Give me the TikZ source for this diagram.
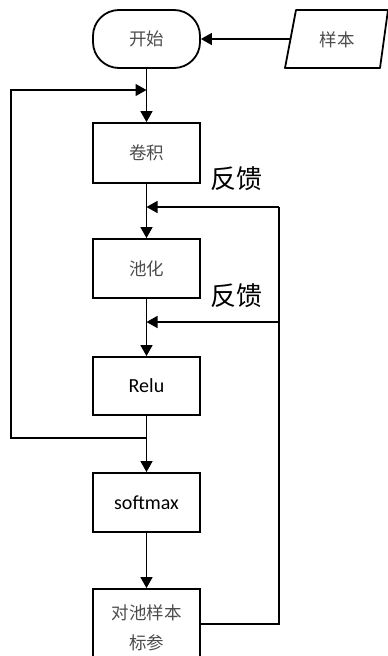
\documentclass[tikz,border=0pt]{standalone}
\usepackage{fontspec}
\newfontfamily\cjk{Noto Sans CJK SC}
\newfontfamily\latin{Carlito}
\usetikzlibrary{arrows.meta}
\begin{document}
\begin{tikzpicture}[x=1pt,y=-1pt,
  box/.style={draw,line width=1.8pt,minimum width=107pt,inner sep=0pt,align=center},
  cjktext/.style={font=\cjk\fontsize{17.5}{30}\selectfont,text=black!70},
  lattext/.style={font=\latin\fontsize{20}{24}\selectfont},
  conn/.style={line width=1.4pt},
  arr/.style={conn,-{Triangle[width=12pt,length=11pt]}},
  fbtext/.style={font=\cjk\fontsize{26}{30}\selectfont}]
\useasboundingbox (0,0) rectangle (388,656);
\clip (0,0) rectangle (388,656);

% process chain
\node[box,cjktext,minimum height=58pt,rounded corners=26pt] (start) at (146.5,39) {开始};
\node[box,cjktext,minimum height=60pt] (conv) at (146.5,153) {卷积};
\node[box,cjktext,minimum height=59pt] (pool) at (146.5,268.5) {池化};
\node[box,lattext,minimum height=58pt] (relu) at (146.5,386) {Relu};
\node[box,lattext,minimum height=59pt] (soft) at (146.5,502.5) {softmax};
\node[box,cjktext,minimum height=78pt] (last) at (146.5,628) {对池样本\\标参};

% input parallelogram
\draw[line width=1.8pt,line join=round] (285,68) -- (296,10) -- (388,10) -- (380,68) -- cycle;
\node[cjktext] (sample) at (337,40) {样本};
\coordinate (sin) at (290.5,39);
\draw[arr] (sin) -- (start.east |- sin);

% main flow
\draw[arr] (start.south) -- (conv.north);
\draw[arr] (conv.south) -- (pool.north);
\draw[arr] (pool.south) -- (relu.north);
\draw[arr] (relu.south) -- (soft.north);
\draw[arr] (soft.south) -- (last.north);

% loop back from Relu output to the convolution input
\coordinate (jr) at (146.5,438);
\coordinate (ltop) at (146.5,90);
\draw[arr] (jr) -- (11,438) -- (11,90) -- (ltop);

% feedback from the last stage
\coordinate (fb0) at (279,624);
\coordinate (fb1) at (146.5,207);
\coordinate (fb2) at (146.5,322);
\draw[conn] (last.east |- fb0) -- (fb0) -- (fb0 |- fb1);
\draw[arr] (fb0 |- fb1) -- (fb1);
\draw[arr] (fb0 |- fb2) -- (fb2);
\node[fbtext] (fbl1) at (236,179) {反馈};
\node[fbtext] (fbl2) at (236,296) {反馈};
\end{tikzpicture}
\end{document}
